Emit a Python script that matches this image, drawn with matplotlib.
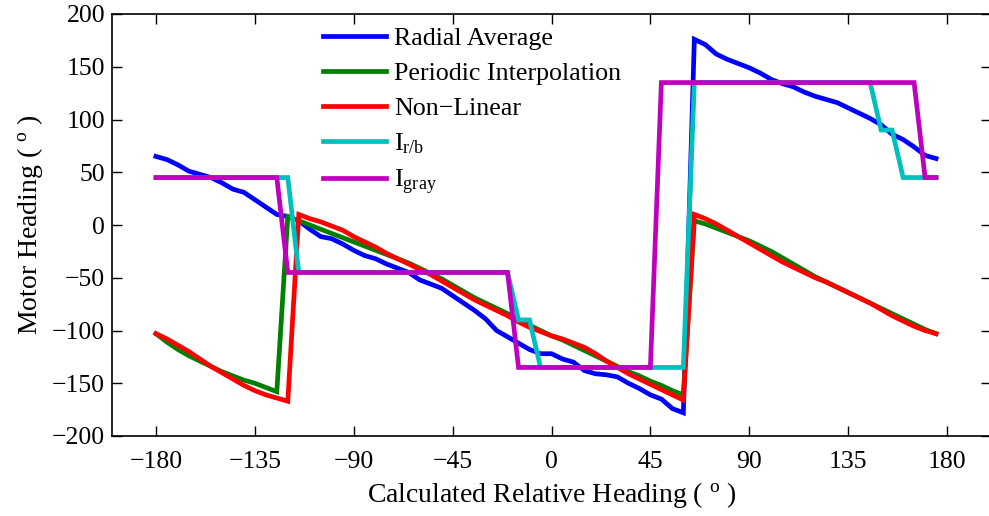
import matplotlib
matplotlib.use('Agg')
import matplotlib.pyplot as plt
import numpy as np

plt.rcParams['font.family'] = ['Liberation Serif', 'DejaVu Serif']
plt.rcParams['mathtext.fontset'] = 'custom'
plt.rcParams['mathtext.rm'] = 'Liberation Serif'
plt.rcParams['mathtext.it'] = 'Liberation Serif:italic'

# relative heading, one sample every 5 degrees
heading = np.arange(-180, 180, 5)

radial_average = [65, 62, 57, 51, 48, 45, 40, 34, 31, 24, 17, 10, 8, 4,
                  -4, -11, -13, -18, -24, -29, -32, -37, -41, -45, -52, -56,
                  -60, -67, -74, -81, -89, -100, -106, -112, -118, -122, -122,
                  -127, -130, -138, -141, -142, -144, -150, -155, -161, -165,
                  -174, -178, 176, 171, 162, 157, 153, 149, 144, 138, 134, 131,
                  126, 122, 119, 116, 111, 106, 101, 95, 86, 81, 74, 66, 63]

periodic_interp = [-103, -111, -118, -124, -129, -134, -139, -143, -147,
                   -150, -154, -158, 8, 4, 0, -4, -8, -12, -16, -20, -24, -28,
                   -32, -36, -41, -46, -51, -57, -63, -69, -74, -79, -84, -90,
                   -95, -100, -105, -109, -114, -119, -124, -129, -134, -139,
                   -143, -148, -152, -157, -161, 4, 1, -3, -7, -11, -15, -20,
                   -25, -31, -37, -43, -49, -54, -59, -64, -69, -74, -79, -84,
                   -89, -94, -99, -103]

non_linear = [-103, -108, -114, -120, -127, -134, -140, -146, -152, -157,
              -161, -164, -167, 10, 6, 3, -1, -5, -11, -16, -21, -27, -32,
              -37, -42, -47, -53, -59, -65, -71, -76, -81, -86, -92, -97,
              -101, -105, -108, -112, -116, -122, -129, -135, -141, -146,
              -151, -156, -161, -166, 10, 6, 1, -5, -11, -17, -23, -29, -35,
              -40, -45, -50, -54, -59, -64, -69, -74, -80, -86, -91, -96,
              -100, -103]

i_rb = [45] * 13 + [-45] * 20 + [-90, -90] + [-135] * 14 + [135] * 17 + \
       [90, 90] + [45] * 4

i_gray = [45] * 12 + [-45] * 21 + [-135] * 13 + [135] * 24 + [45, 45]

series = [
    (radial_average, 'Radial Average', (0, 0, 1)),
    (periodic_interp, 'Periodic Interpolation', (0, 0.5, 0)),
    (non_linear, 'Non\u2212Linear', (1, 0, 0)),
    (i_rb, r'I$_{\mathrm{r/b}}$', (0, 0.75, 0.75)),
    (i_gray, r'I$_{\mathrm{gray}}$', (0.75, 0, 0.75)),
]

fig = plt.figure(figsize=(9.89, 5.16), dpi=100)
ax = fig.add_axes([112 / 989, 80 / 516, 879 / 989, 422 / 516])

for values, label, colour in series:
    ax.plot(heading, values, color=colour, lw=3.4, label=label,
            solid_joinstyle='miter')

ax.set_xlim(-200, 200)
ax.set_ylim(-200, 200)
ax.set_xticks(np.arange(-180, 181, 45))
ax.set_xticklabels(['\u2212180', '\u2212135', '\u221290', '\u221245', '0',
                    '45', '90', '135', '180'])
ax.set_yticks(np.arange(-200, 201, 50))
ax.set_yticklabels(['\u2212200', '\u2212150', '\u2212100', '\u221250', '0',
                    '50', '100', '150', '200'])
ax.tick_params(direction='in', length=7, width=1, top=True, right=True,
               labelsize=18.5)
ax.tick_params(axis='x', pad=11)
ax.tick_params(axis='y', pad=5)
for spine in ax.spines.values():
    spine.set_linewidth(1.2)

ax.set_xlabel(r'Calculated Relative Heading ( $^{\mathrm{o}}$ )', fontsize=20,
              labelpad=5)
ax.set_ylabel(r'Motor Heading ( $^{\mathrm{o}}$ )', fontsize=20, labelpad=5)

ax.legend(loc='upper left', bbox_to_anchor=(0.231, 0.988), frameon=False,
          fontsize=18.7, handlelength=2.45, handletextpad=0.3,
          labelspacing=0.45, borderaxespad=0.1, borderpad=0.2)

fig.savefig('out.png', dpi=100)
